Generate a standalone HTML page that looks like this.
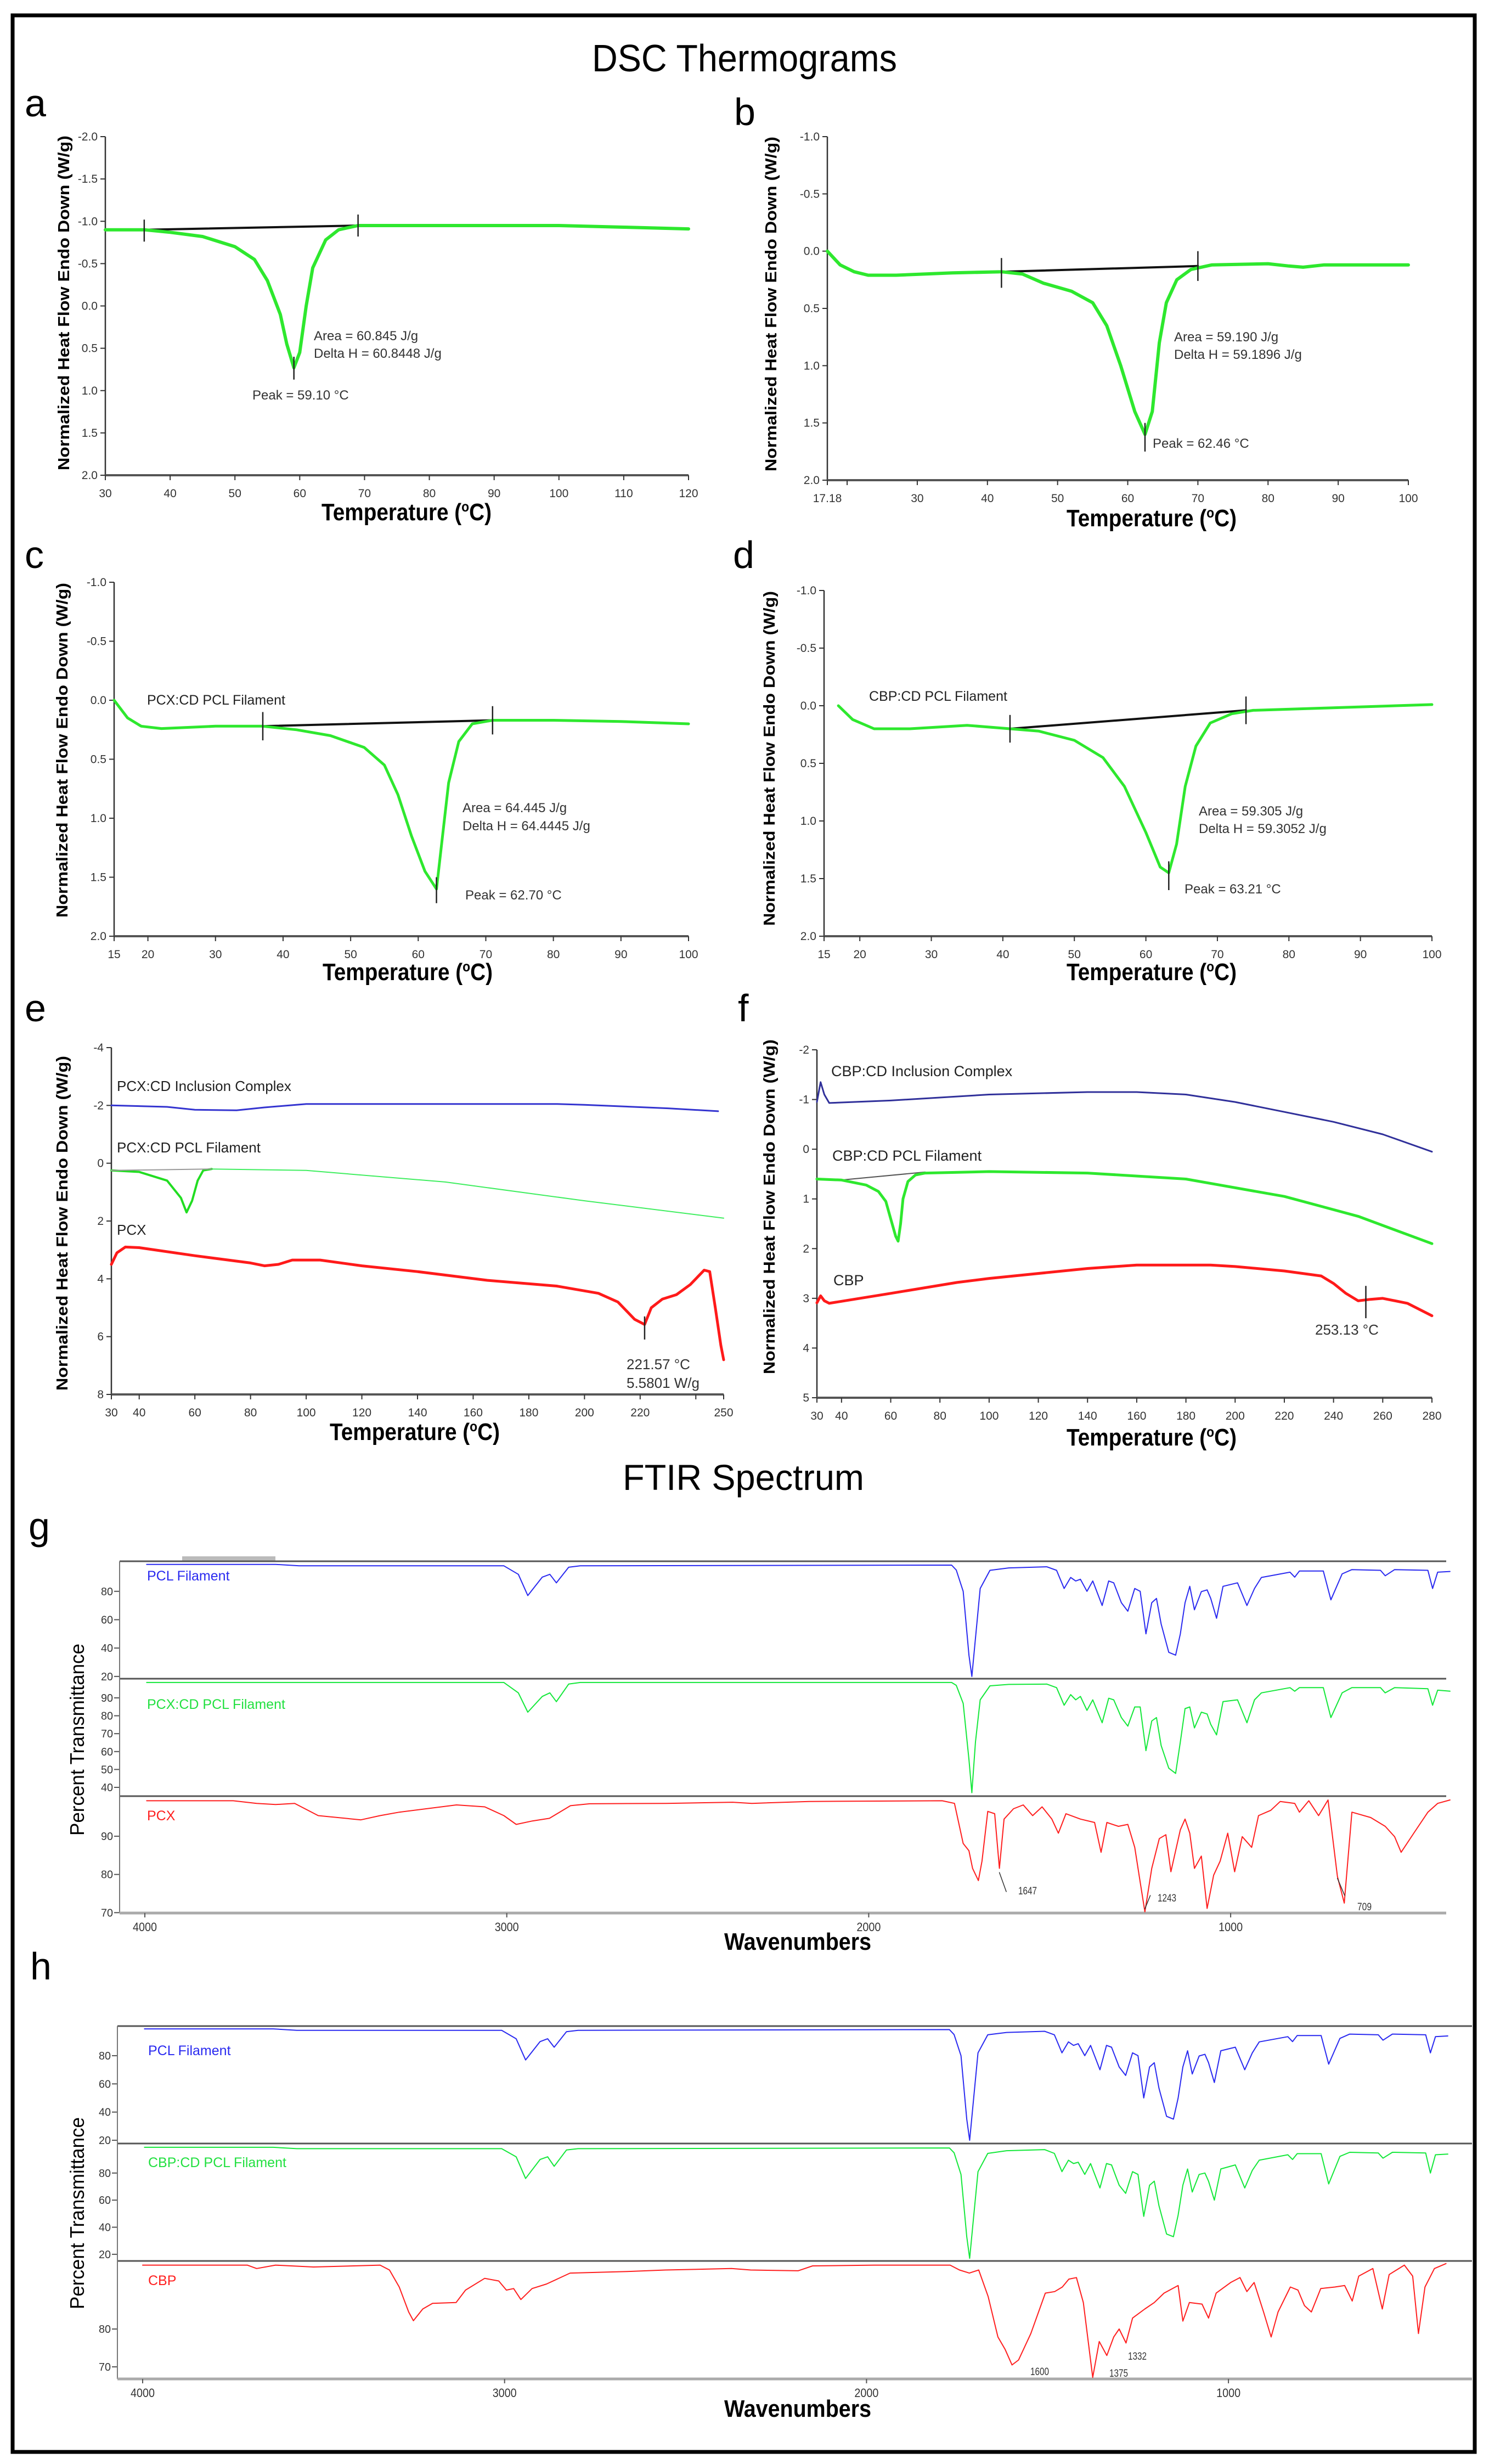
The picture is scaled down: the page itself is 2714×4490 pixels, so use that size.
<!DOCTYPE html>
<html><head><meta charset="utf-8"><title>DSC Thermograms and FTIR Spectrum</title>
<style>
html,body{margin:0;padding:0;background:#fff;}
svg{display:block;}
text{font-family:"Liberation Sans",Arial,sans-serif;}
</style></head>
<body>
<svg id="fig" xmlns="http://www.w3.org/2000/svg" width="2714" height="4490" viewBox="0 0 2714 4490">
<rect x="0" y="0" width="2714" height="4490" fill="#fff"/>
<rect x="23" y="28" width="2665" height="4440" fill="none" stroke="#000" stroke-width="7"/>
<text x="1357" y="130" font-size="70" text-anchor="middle" textLength="556" lengthAdjust="spacingAndGlyphs">DSC Thermograms</text>
<text x="1355" y="2715" font-size="66" text-anchor="middle" textLength="440" lengthAdjust="spacingAndGlyphs">FTIR Spectrum</text>
<text x="45" y="212" font-size="70">a</text>
<text x="1338" y="228" font-size="70">b</text>
<text x="45" y="1035" font-size="70">c</text>
<text x="1336" y="1035" font-size="70">d</text>
<text x="45" y="1861" font-size="70">e</text>
<text x="1345" y="1861" font-size="70">f</text>
<text x="52" y="2805" font-size="70">g</text>
<text x="55" y="3607" font-size="70">h</text>
</svg>
<script>
// ---------------- DSC data ----------------
const aTemp=[30,36,40,45,50,53,55,57,58,59.1,60,61,62,64,66,69,80,100,110,120];
const aFlow=[-0.90,-0.90,-0.87,-0.82,-0.70,-0.55,-0.30,0.10,0.45,0.73,0.55,0.00,-0.45,-0.78,-0.90,-0.95,-0.95,-0.95,-0.93,-0.91];
const aBaseT=[36,69]; const aBaseF=[-0.90,-0.95];
const bTemp=[17.18,19,21,23,27,35,42,45,48,52,55,57,59,61,62.46,63.5,64.5,65.5,67,69,72,80,83,85,88,100];
const bFlow=[0.0,0.12,0.18,0.21,0.21,0.19,0.18,0.20,0.28,0.35,0.45,0.65,1.0,1.4,1.6,1.4,0.8,0.45,0.25,0.16,0.12,0.11,0.13,0.14,0.12,0.12];
const bBaseT=[42,70]; const bBaseF=[0.18,0.13];
const cTemp=[15,17,19,22,30,37,42,47,52,55,57,59,61,62.7,63.5,64.5,66,68,71,80,90,100];
const cFlow=[0.0,0.15,0.22,0.24,0.22,0.22,0.25,0.30,0.40,0.55,0.80,1.15,1.45,1.60,1.20,0.70,0.35,0.20,0.17,0.17,0.18,0.20];
const cBaseT=[37,71]; const cBaseF=[0.22,0.17];
const dTemp=[17,19,22,27,35,41,45,50,54,57,60,62,63.2,64.3,65.5,67,69,72,75,85,100];
const dFlow=[0.0,0.12,0.20,0.20,0.17,0.20,0.22,0.30,0.45,0.70,1.10,1.40,1.45,1.20,0.70,0.35,0.15,0.07,0.04,0.02,-0.01];
const dBaseT=[41,74]; const dBaseF=[0.20,0.04];
const eTemp=[30,50,60,75,85,100,150,190,200,230,248];
const eIncl=[-2.0,-1.95,-1.85,-1.83,-1.93,-2.05,-2.05,-2.05,-2.02,-1.9,-1.8];
const eFilT=[30,40,50,55,57,59,61,63,66,100,150,200,250];
const eFil=[0.25,0.3,0.6,1.2,1.7,1.3,0.6,0.25,0.2,0.25,0.65,1.3,1.9];
const ePcxT=[30,32,35,40,60,80,85,90,95,105,120,140,165,190,205,212,218,221.6,224,228,233,238,243,245,247,249,250];
const ePcx=[3.5,3.1,2.9,2.92,3.2,3.45,3.55,3.5,3.35,3.35,3.55,3.75,4.05,4.25,4.5,4.8,5.4,5.58,5.0,4.7,4.55,4.2,3.7,3.75,5.0,6.3,6.8];
const fInclT=[30,31.5,33,35,60,100,140,160,180,200,220,240,260,280];
const fIncl=[-0.95,-1.35,-1.1,-0.93,-0.98,-1.1,-1.15,-1.15,-1.1,-0.95,-0.75,-0.55,-0.3,0.05];
const fFilT=[30,40,50,55,58,60,62,63,64,65,67,70,74,100,140,180,220,250,280];
const fFil=[0.6,0.62,0.72,0.85,1.05,1.4,1.75,1.85,1.5,1.0,0.65,0.52,0.48,0.45,0.48,0.6,0.95,1.35,1.9];
const fCbpT=[30,31.5,33,35,60,87,100,140,160,190,200,220,235,240,245,250,255,260,270,280];
const fCbp=[3.09,2.95,3.05,3.1,2.9,2.68,2.6,2.4,2.33,2.33,2.36,2.45,2.55,2.7,2.9,3.05,3.02,3.0,3.1,3.35];
// tick labels
const aXT=[30,40,50,60,70,80,90,100,110,120];
const aYT=[-2.0,-1.5,-1.0,-0.5,0.0,0.5,1.0,1.5,2.0];
const bXT=[17.18,30,40,50,60,70,80,90,100];
const bYT=[-1.0,-0.5,0.0,0.5,1.0,1.5,2.0];
const cdXT=[15,20,30,40,50,60,70,80,90,100];
const eXT=[30,40,60,80,100,120,140,160,180,200,220,250];
const eYT=[-4,-2,0,2,4,6,8];
const fXT=[30,40,60,80,100,120,140,160,180,200,220,240,260,280];
const fYT=[-2,-1,0,1,2,3,4,5];
// ---------------- FTIR data ----------------
const pclWn=[3995,3639,3574,3008,2968,2942,2902,2881,2863,2829,2797,1771,1758,1739,1723,1715,1705,1692,1665,1613,1508,1481,1460,1442,1428,1415,1397,1381,1355,1337,1323,1302,1284,1265,1250,1234,1218,1205,1192,1171,1152,1139,1126,1113,1100,1081,1065,1055,1039,1021,981,955,934,915,836,823,810,744,723,692,665,586,573,547,455,442,428,394];
const pclT=[99,99,98,98,92,77,90,92,86,97,98,98.5,95,80,35,20,47,82,94.8,96.5,97.3,94.8,82,89.8,87.3,88.5,80,87.3,70,87.3,86,72,66,82,80,50,72,75,57,37,35,50,72,83.5,67,79.8,81,75,61,83.5,86,70,82,89.8,93.5,90,94.3,94.3,74,92.3,95.3,94.8,91,95.3,94.8,82,93.5,94];
const pcxFilT=[98.6,98.6,98.6,98.6,92.8,82,90.8,92.8,87.9,97.7,98.6,98.6,97,86.9,55.6,37,65.4,88.9,96.7,97.5,97.7,95.7,85.9,91.8,88.9,90.8,83,88.9,76.1,89.8,88.9,79,74.2,84.9,84.9,60.5,77.1,79,63.4,50.7,47.8,65.4,84,84.9,73.2,82,81,75.2,69.3,87.9,88.9,76.1,88.9,92.8,95.7,93.7,95.7,95.7,79,92.8,95.7,95.7,92.8,95.7,95.1,85.9,94.3,93.7];
const cbpFilT=[99,99,98,98,92,76,90,92,85,97,98,98.5,95,79,33,17,45,81,94.5,96.5,97.3,94.5,81,89.5,87,88,79,87,69,87,86,71,65,81,79,48,71,74,56,35,33,49,71,83,66,79,80,74,60,83,86,69,82,89.5,93.5,90,94.3,94.3,72,92.3,95.3,94.8,91,95.3,94.8,80,93.5,94];
const pcxWn=[3995,3756,3691,3639,3586,3521,3403,3350,3297,3139,3061,3008,2974,2929,2882,2824,2771,2560,2376,2323,2165,1797,1763,1739,1723,1713,1697,1687,1671,1652,1639,1626,1600,1573,1547,1521,1494,1476,1455,1415,1376,1358,1342,1310,1284,1265,1250,1237,1218,1197,1179,1165,1139,1126,1113,1100,1081,1065,1047,1029,1008,989,968,942,923,889,863,823,810,784,757,731,705,686,665,613,573,547,529,494,455,428,394];
const pcxT=[99.3,99.3,98.6,98.3,98.6,95.4,94.3,95.4,96.3,98.2,97.7,95.4,93.1,94,94.7,98,98.5,98.6,98.9,98.6,99.1,99.3,98.6,88.1,86.2,81.6,78.4,83.5,96.5,95.9,81.6,94.5,97.2,98.2,95.4,97.7,94.5,90.8,95.9,94.5,93.6,85.8,93.6,92.6,93.1,87.1,78,70.2,81.6,89.4,90.4,80.7,91.7,94.5,90.8,81.6,84.8,71.1,79.8,83.5,90.8,80.7,89.9,87.1,95.4,96.8,99.1,98.6,96.3,99.3,95.4,99.5,79.5,72.5,96.3,94.9,92.6,89.9,85.8,90.8,96.3,98.6,99.5];
const cbpWn=[4000,3711,3685,3633,3528,3344,3318,3291,3265,3252,3226,3199,3134,3108,3055,3016,2995,2975,2955,2924,2884,2819,2661,2556,2373,2320,2189,2149,1979,1769,1743,1716,1690,1664,1637,1617,1598,1580,1546,1506,1480,1459,1441,1420,1401,1375,1357,1336,1317,1302,1283,1265,1231,1205,1178,1139,1126,1108,1073,1055,1034,994,968,949,929,903,882,863,829,808,790,771,745,706,679,658,640,601,575,556,514,491,475,457,431,399];
const cbpT=[96.9,96.9,96.0,96.9,96.4,96.9,95.6,91.1,84.5,82.2,85.3,86.8,87,90.3,93.4,92.7,90.3,90.7,87.8,90.7,91.9,94.8,95.2,95.6,96.0,95.6,95.4,96.7,96.9,96.9,95.6,94.8,95.6,88.6,77.9,74.6,70.5,71.8,78.8,89.5,89.9,91.1,93.2,93.6,87,67.2,76.7,73,77.9,80,76.3,82.9,85.3,87,89.5,91.5,82.1,87,86.6,82.9,89.5,92.3,93.6,89.9,92.3,84.5,77.9,84.5,91.1,90.3,86.2,84.5,90.7,91.1,91.5,87.4,94,96,85.3,94.4,96.9,94,78.8,91.1,96,97.3];
const wnTicks=[4000,3000,2000,1000];
const pclYT=[80,60,40,20];
const g2YT=[90,80,70,60,50,40];
const g3YT=[90,80,70];
const h3YT=[80,70];

// ---------------- helpers ----------------
const NS='http://www.w3.org/2000/svg';
const svg=document.getElementById('fig');
function mk(tag,attrs,parent){const e=document.createElementNS(NS,tag);for(const k in attrs)e.setAttribute(k,attrs[k]);(parent||svg).appendChild(e);return e;}
function txt(s,attrs,parent){const e=mk('text',attrs,parent);e.textContent=s;return e;}
function sx(p,v){return p.x0+(v-p.xmin)/(p.xmax-p.xmin)*(p.x1-p.x0);}
function sy(p,v){return p.y0+(v-p.ymin)/(p.ymax-p.ymin)*(p.y1-p.y0);}
function pathD(p,xs,ys){let d='';for(let i=0;i<xs.length;i++){d+=(i?'L':'M')+sx(p,xs[i]).toFixed(1)+' '+sy(p,ys[i]).toFixed(1);}return d;}
function series(p,xs,ys,color,w,name){
  const e=mk('path',{d:pathD(p,xs,ys),fill:'none',stroke:color,'stroke-width':w,'stroke-linejoin':'round','stroke-linecap':'round'});
  
  
  return e;
}
function vmark(p,x,v1,v2,name){
  const e=mk('line',{x1:sx(p,x),x2:sx(p,x),y1:sy(p,v1),y2:sy(p,v2),stroke:'#222','stroke-width':2.5});
  
  
}
function label(s,x,y,size,color,name,extra){
  const a={x:x,y:y,'font-size':size,fill:color};
  if(extra)for(const k in extra)a[k]=extra[k];
  const e=txt(s,a);
  
  
  return e;
}

function dscAxes(p,id,xt,yt,fmt,ytitleX,ytitleY,xtitleX,xtitleY,ticksX){
  const g=mk('g',{});
  
  
  const ya=mk('line',{x1:p.x0,x2:p.x0,y1:p.y0,y2:p.y1,stroke:'#333','stroke-width':2.5},g);
  
  
  const xa=mk('line',{x1:p.x0,x2:p.x1,y1:p.y1,y2:p.y1,stroke:'#555','stroke-width':4},g);
  
  
  yt.forEach(v=>{
    const y=sy(p,v);
    const t=mk('line',{x1:p.x0-9,x2:p.x0,y1:y,y2:y,stroke:'#333','stroke-width':2},g);
    
    
    const l=txt(fmt(v),{x:p.x0-14,y:y+7,'font-size':21,fill:'#333','text-anchor':'end'},g);
    
    
  });
  (ticksX||xt).forEach(v=>{
    const x=sx(p,v);
    const t=mk('line',{x1:x,x2:x,y1:p.y1,y2:p.y1+9,stroke:'#333','stroke-width':2},g);
    
    
  });
  xt.forEach(v=>{
    const l=txt(String(v),{x:sx(p,v),y:p.y1+40,'font-size':21,fill:'#333','text-anchor':'middle'},g);
    
    
  });
  const yt2=txt('Normalized Heat Flow Endo Down (W/g)',{x:ytitleX,y:ytitleY,'font-size':29,'font-weight':'bold','text-anchor':'middle',transform:'rotate(-90 '+ytitleX+' '+ytitleY+')',textLength:610,lengthAdjust:'spacingAndGlyphs',dy:10},g);
  
  
  const xtt=txt('',{x:xtitleX,y:xtitleY+15,'font-size':44,'font-weight':'bold','text-anchor':'middle',textLength:310,lengthAdjust:'spacingAndGlyphs'},g);
  
  
  xtt.textContent='Temperature (';
  const sup=mk('tspan',{'font-size':26,dy:-16},xtt); sup.textContent='o';
  const cc=mk('tspan',{dy:16},xtt); cc.textContent='C)';
}
const f1=v=>v.toFixed(1);
const f0=v=>String(v);
const GREEN='#2ee82e';

// Panel a
const Pa={x0:192,x1:1255,y0:249,y1:866,xmin:30,xmax:120,ymin:-2,ymax:2};
dscAxes(Pa,'a',aXT,aYT,f1,116,552,741,933);
series(Pa,aBaseT,aBaseF,'#111',4,'panel-a-baseline');
series(Pa,aTemp,aFlow,GREEN,6,'panel-a-curve');
vmark(Pa,36,-0.76,-1.02,'panel-a-onset-mark');
vmark(Pa,69,-0.82,-1.08,'panel-a-end-mark');
vmark(Pa,59.1,0.6,0.87,'panel-a-peak-mark');
label('Area = 60.845 J/g',572,620,24,'#333','panel-a-area-label');
label('Delta H = 60.8448 J/g',572,652,24,'#333','panel-a-delta-label');
label('Peak = 59.10 °C',460,728,24,'#333','panel-a-peak-label');

// Panel b
const Pb={x0:1508,x1:2567,y0:249,y1:875,xmin:17.18,xmax:100,ymin:-1,ymax:2};
dscAxes(Pb,'b',bXT,bYT,f1,1405,554,2099,944,[17.18,20,30,40,50,60,70,80,90,100]);
series(Pb,bBaseT,bBaseF,'#111',4,'panel-b-baseline');
series(Pb,bTemp,bFlow,GREEN,6,'panel-b-curve');
vmark(Pb,42,0.06,0.32,'panel-b-onset-mark');
vmark(Pb,70,0.0,0.26,'panel-b-end-mark');
vmark(Pb,62.46,1.5,1.75,'panel-b-peak-mark');
label('Area = 59.190 J/g',2140,622,24,'#333','panel-b-area-label');
label('Delta H = 59.1896 J/g',2140,654,24,'#333','panel-b-delta-label');
label('Peak = 62.46 °C',2101,816,24,'#333','panel-b-peak-label');

// Panel c
const Pc={x0:208,x1:1255,y0:1061,y1:1706,xmin:15,xmax:100,ymin:-1,ymax:2};
dscAxes(Pc,'c',cdXT,bYT,f1,113,1367,743,1771);
series(Pc,cBaseT,cBaseF,'#111',4,'panel-c-baseline');
series(Pc,cTemp,cFlow,GREEN,5,'panel-c-curve');
vmark(Pc,37,0.1,0.34,'panel-c-onset-mark');
vmark(Pc,71,0.05,0.29,'panel-c-end-mark');
vmark(Pc,62.7,1.5,1.72,'panel-c-peak-mark');
label('PCX:CD PCL Filament',268,1284,25,'#222','panel-c-series-label');
label('Area = 64.445 J/g',843,1480,24,'#333','panel-c-area-label');
label('Delta H = 64.4445 J/g',843,1513,24,'#333','panel-c-delta-label');
label('Peak = 62.70 °C',848,1639,24,'#333','panel-c-peak-label');

// Panel d
const Pd={x0:1502,x1:2610,y0:1076,y1:1706,xmin:15,xmax:100,ymin:-1,ymax:2};
dscAxes(Pd,'d',cdXT,bYT,f1,1402,1382,2099,1771);
series(Pd,dBaseT,dBaseF,'#111',4,'panel-d-baseline');
series(Pd,dTemp,dFlow,GREEN,5,'panel-d-curve');
vmark(Pd,41,0.08,0.32,'panel-d-onset-mark');
vmark(Pd,74,-0.08,0.16,'panel-d-end-mark');
vmark(Pd,63.2,1.35,1.6,'panel-d-peak-mark');
label('CBP:CD PCL Filament',1584,1277,25,'#222','panel-d-series-label');
label('Area = 59.305 J/g',2185,1486,24,'#333','panel-d-area-label');
label('Delta H = 59.3052 J/g',2185,1518,24,'#333','panel-d-delta-label');
label('Peak = 63.21 °C',2159,1628,24,'#333','panel-d-peak-label');

// Panel e
const Pe={x0:203,x1:1319,y0:1909,y1:2541,xmin:30,xmax:250,ymin:-4,ymax:8};
dscAxes(Pe,'e',eXT,eYT,f0,113,2229,756,2609,[30,40,60,80,100,120,140,160,180,200,220,240,250]);
series(Pe,eTemp,eIncl,'#3434d0',3,'panel-e-inclusion-curve');
series(Pe,eFilT,eFil,'#40ee60',2,'panel-e-filament-curve');
series(Pe,eFilT.slice(0,9),eFil.slice(0,9),'#22dd22',4,'panel-e-filament-peak');
series(Pe,[30,66],[0.25,0.2],'#999',2,'panel-e-baseline');
series(Pe,ePcxT,ePcx,'#ff1a1a',5,'panel-e-pcx-curve');
vmark(Pe,221.6,5.3,6.1,'panel-e-peak-mark');
label('PCX:CD Inclusion Complex',213,1988,26,'#222','panel-e-inclusion-label');
label('PCX:CD PCL Filament',213,2100,26,'#222','panel-e-filament-label');
label('PCX',213,2250,26,'#222','panel-e-pcx-label');
label('221.57 °C',1142,2495,26,'#333','panel-e-peak-temp-label');
label('5.5801 W/g',1142,2529,26,'#333','panel-e-peak-flow-label');

// Panel f
const Pf={x0:1489,x1:2610,y0:1913,y1:2547,xmin:30,xmax:280,ymin:-2,ymax:5};
dscAxes(Pf,'f',fXT,fYT,f0,1402,2199,2099,2619);
series(Pf,fInclT,fIncl,'#30309a',3,'panel-f-inclusion-curve');
series(Pf,[40,74],[0.62,0.46],'#555',2,'panel-f-baseline');
series(Pf,fFilT,fFil,GREEN,5,'panel-f-filament-curve');
series(Pf,fCbpT,fCbp,'#ff1a1a',5,'panel-f-cbp-curve');
vmark(Pf,253.13,2.75,3.4,'panel-f-peak-mark');
label('CBP:CD Inclusion Complex',1515,1961,27,'#222','panel-f-inclusion-label');
label('CBP:CD PCL Filament',1517,2115,27,'#222','panel-f-filament-label');
label('CBP',1519,2342,27,'#222','panel-f-cbp-label');
label('253.13 °C',2397,2432,26,'#333','panel-f-peak-label');

// ---------------- FTIR ----------------
function ftirPanel(id,x0,x1,y0,y1,tMax,tMin,yt,name){
  const p={x0:x0,x1:x1,y0:y0,y1:y1,xmin:4000,xmax:4000-(x1-x0)/0.6597,ymin:tMax,ymax:tMin};
  const top=mk('line',{x1:x0,x2:x1,y1:y0,y2:y0,stroke:'#555','stroke-width':3});
  
  
  yt.forEach(v=>{
    const y=sy(p,v);
    const t=mk('line',{x1:x0-10,x2:x0,y1:y,y2:y,stroke:'#555','stroke-width':2});
    
    
    const l=txt(String(v),{x:x0-12,y:y+7,'font-size':20,fill:'#333','text-anchor':'end',textLength:22,lengthAdjust:'spacingAndGlyphs'});
    
    
  });
  return p;
}
function ftirFrame(id,x0,x1,y0,y1,ticks0,xt,ytitleY,xtitleY){
  const la=mk('line',{x1:x0,x2:x0,y1:y0,y2:y1,stroke:'#777','stroke-width':2});
  
  
  const ba=mk('line',{x1:x0,x2:x1,y1:y1,y2:y1,stroke:'#aaa','stroke-width':5});
  
  
  xt.forEach(v=>{
    const x=ticks0+(4000-v)*0.6597;
    const t=mk('line',{x1:x,x2:x,y1:y1,y2:y1+8,stroke:'#555','stroke-width':2});
    
    
    const l=txt(String(v),{x:x,y:y1+33,'font-size':22,fill:'#333','text-anchor':'middle',textLength:44,lengthAdjust:'spacingAndGlyphs'});
    
    
  });
  const yt=txt('Percent Transmittance',{x:141,y:ytitleY,'font-size':36,'text-anchor':'middle',transform:'rotate(-90 141 '+ytitleY+')',textLength:350,lengthAdjust:'spacingAndGlyphs',dy:12});
  
  
  const xtt=txt('Wavenumbers',{x:1454,y:xtitleY+15,'font-size':44,'font-weight':'bold','text-anchor':'middle',textLength:268,lengthAdjust:'spacingAndGlyphs'});
  
  
}
// g
const artifact=mk('rect',{x:332,y:2836,width:170,height:8,fill:'#bbb'});


const G1=ftirPanel('g',218,2636,2845,3059,101.2,18.4,pclYT,'panel-g-pcl');
const G2=ftirPanel('g',218,2636,3059,3273,100.7,35.1,g2YT,'panel-g-pcx-filament');
const G3=ftirPanel('g',218,2636,3273,3486,100.5,69.9,g3YT,'panel-g-pcx');
G1.xmin=G2.xmin=G3.xmin=4000+(264-218)/0.6597;
G1.xmax=G2.xmax=G3.xmax=4000-(2636-264)/0.6597;
ftirFrame('g',218,2636,2845,3486,264,wnTicks,3170,3538);
series(G1,pclWn,pclT,'#2a2af0',2,'panel-g-pcl-spectrum');
series(G2,pclWn,pcxFilT,'#14e83a',2,'panel-g-pcx-filament-spectrum');
series(G3,pcxWn,pcxT,'#ff1f1f',2,'panel-g-pcx-spectrum');
label('PCL Filament',268,2880,25,'#2a2af0','panel-g-pcl-label');
label('PCX:CD PCL Filament',268,3114,25,'#22e040','panel-g-pcx-filament-label');
label('PCX',268,3317,25,'#ff1f1f','panel-g-pcx-label');
series(G3,[1639,1620],[80.5,75.5],'#333',1.5,'panel-g-leader-1647');
series(G3,[1237,1222],[71,74.5],'#333',1.5,'panel-g-leader-1243');
series(G3,[705,685],[79,74.5],'#333',1.5,'panel-g-leader-709');
label('1647',1856,3452,19,'#333','panel-g-peak-1647',{textLength:34,lengthAdjust:'spacingAndGlyphs'});
label('1243',2110,3465,19,'#333','panel-g-peak-1243',{textLength:34,lengthAdjust:'spacingAndGlyphs'});
label('709',2474,3481,19,'#333','panel-g-peak-709',{textLength:26,lengthAdjust:'spacingAndGlyphs'});
// h
const H1=ftirPanel('h',214,2683,3692,3906,101,17.7,pclYT,'panel-h-pcl');
const H2=ftirPanel('h',214,2683,3906,4120,101.8,15.1,pclYT,'panel-h-cbp-filament');
const H3=ftirPanel('h',214,2683,4120,4335,98,66.8,h3YT,'panel-h-cbp');
H1.xmin=H2.xmin=H3.xmin=4000+(260-214)/0.6597;
H1.xmax=H2.xmax=H3.xmax=4000-(2683-260)/0.6597;
ftirFrame('h',214,2683,3692,4335,260,wnTicks,4033,4389);
series(H1,pclWn,pclT,'#2a2af0',2,'panel-h-pcl-spectrum');
series(H2,pclWn,cbpFilT,'#14e83a',2,'panel-h-cbp-filament-spectrum');
series(H3,cbpWn,cbpT,'#ff1f1f',2,'panel-h-cbp-spectrum');
label('PCL Filament',270,3745,25,'#2a2af0','panel-h-pcl-label');
label('CBP:CD PCL Filament',270,3949,25,'#22e040','panel-h-cbp-filament-label');
label('CBP',270,4164,25,'#ff1f1f','panel-h-cbp-label');
label('1600',1878,4328,19,'#333','panel-h-peak-1600',{textLength:34,lengthAdjust:'spacingAndGlyphs'});
label('1375',2022,4331,19,'#333','panel-h-peak-1375',{textLength:34,lengthAdjust:'spacingAndGlyphs'});
label('1332',2056,4300,19,'#333','panel-h-peak-1332',{textLength:34,lengthAdjust:'spacingAndGlyphs'});
</script>
</body></html>
